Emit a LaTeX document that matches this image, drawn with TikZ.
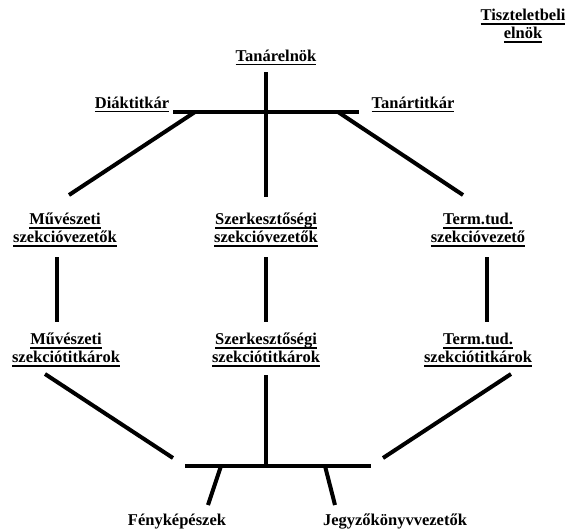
\documentclass[tikz,border=0pt]{standalone}
\usepackage{fontspec}
\setmainfont{Liberation Serif}
\newcommand{\alahuz}[1]{\setbox0\hbox{#1}\rlap{\rule[-4pt]{\wd0}{1.4pt}}\box0}

\begin{document}
\begin{tikzpicture}[x=1pt, y=-1pt,
		conn/.style={line width=4pt},
		cim/.style={font=\bfseries\fontsize{16.5}{18}\selectfont, align=center, inner sep=0pt}]
		\useasboundingbox (0,0) rectangle (567,530);

		%variables
		\def\mid{266};

		%names
		\node[cim] (tiszt) at (523,26) {\alahuz{Tiszteletbeli}\\\alahuz{elnök}};
		\node[cim, anchor=base] (tanarelnok) at (276,61) {\alahuz{Tanárelnök}};
		\node[cim, anchor=base] (diak) at (132,108) {\alahuz{Diáktitkár}};
		\node[cim, anchor=base] (tanar) at (413,108) {\alahuz{Tanártitkár}};

		\node[cim] (muvvez) at (65,230) {\alahuz{Művészeti}\\\alahuz{szekcióvezetők}};
		\node[cim] (szervez) at (\mid,230) {\alahuz{Szerkesztőségi}\\\alahuz{szekcióvezetők}};
		\node[cim] (termvez) at (478,230) {\alahuz{Term.tud.}\\\alahuz{szekcióvezető}};

		\node[cim] (muvtit) at (66,350) {\alahuz{Művészeti}\\\alahuz{szekciótitkárok}};
		\node[cim] (szertit) at (\mid,350) {\alahuz{Szerkesztőségi}\\\alahuz{szekciótitkárok}};
		\node[cim] (termtit) at (478,350) {\alahuz{Term.tud.}\\\alahuz{szekciótitkárok}};

		\node[cim, anchor=base] (foto) at (177,525) {Fényképészek};
		\node[cim, anchor=base] (jegyzo) at (395,525) {Jegyzőkönyvvezetők};

		%line ends
		\coordinate (elnokA) at (\mid,72);
		\coordinate (topL) at (173,112);
		\coordinate (topR) at (359,112);
		\coordinate (topDL) at (195,112);
		\coordinate (topDR) at (338,112);
		\coordinate (muvA) at (69,195);
		\coordinate (szerA) at (\mid,197);
		\coordinate (termA) at (463,195);

		\coordinate (muvB) at (57,257);
		\coordinate (muvC) at (57,322);
		\coordinate (szerB) at (\mid,257);
		\coordinate (szerC) at (\mid,322);
		\coordinate (termB) at (487,257);
		\coordinate (termC) at (487,322);

		\coordinate (muvD) at (45,374);
		\coordinate (szerD) at (\mid,375);
		\coordinate (termD) at (511,374);
		\coordinate (botL) at (185,466);
		\coordinate (botR) at (371,466);
		\coordinate (botC) at (\mid,466);
		\coordinate (botDL) at (173,458);
		\coordinate (botDR) at (383,458);
		\coordinate (fotoA) at (221,466);
		\coordinate (fotoB) at (208,505);
		\coordinate (jegyzoA) at (325,466);
		\coordinate (jegyzoB) at (335,505);

		%top part
		\draw[conn] (topL) -- (topR);
		\draw[conn] (elnokA) -- (szerA);
		\draw[conn] (topDL) -- (muvA);
		\draw[conn] (topDR) -- (termA);

		%sections
		\draw[conn] (muvB) -- (muvC);
		\draw[conn] (szerB) -- (szerC);
		\draw[conn] (termB) -- (termC);

		%bottom part
		\draw[conn] (botL) -- (botR);
		\draw[conn] (szerD) -- (botC);
		\draw[conn] (muvD) -- (botDL);
		\draw[conn] (termD) -- (botDR);
		\draw[conn] (fotoA) -- (fotoB);
		\draw[conn] (jegyzoA) -- (jegyzoB);
	\end{tikzpicture}
\end{document}
